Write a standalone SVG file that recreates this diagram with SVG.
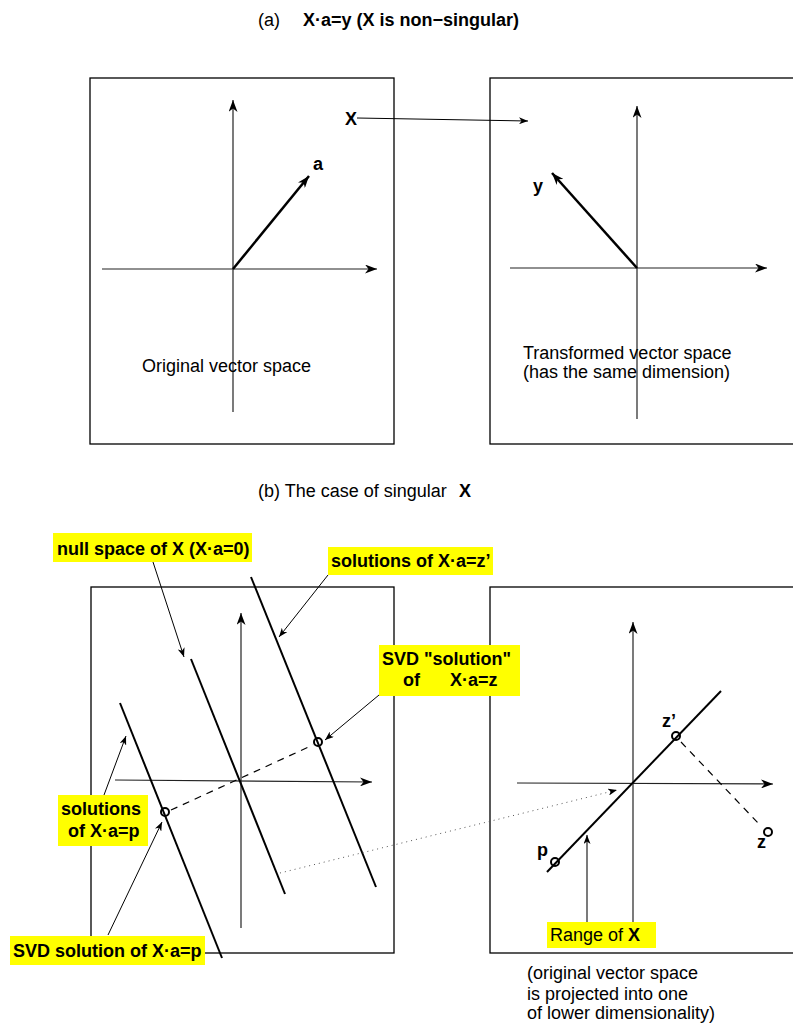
<svg xmlns="http://www.w3.org/2000/svg" width="793" height="1025" viewBox="0 0 793 1025">
<style>
text{font-family:"Liberation Sans",Arial,sans-serif;font-size:18px;fill:#000}
.b{font-weight:bold}
.box{fill:none;stroke:#000;stroke-width:1.3}
.ax{fill:none;stroke:#222;stroke-width:1.2}
.vec{fill:none;stroke:#000;stroke-width:2.5}
.ln{fill:none;stroke:#000;stroke-width:2}
.thin{fill:none;stroke:#000;stroke-width:1}
.dash{fill:none;stroke:#000;stroke-width:1.2;stroke-dasharray:7 6}
.dot{fill:none;stroke:#555;stroke-width:1;stroke-dasharray:1 4}
.hl{fill:#ffff00;stroke:none}
.pt{fill:none;stroke:#000;stroke-width:2}
</style>
<defs>
<marker id="ah" markerUnits="userSpaceOnUse" markerWidth="13" markerHeight="9" refX="12" refY="4.5" orient="auto"><path d="M0,0 L12,4.5 L0,9 L3.5,4.5 z" fill="#000"/></marker>
<marker id="ahs" markerUnits="userSpaceOnUse" markerWidth="10" markerHeight="7" refX="9" refY="3.5" orient="auto"><path d="M0,0 L9,3.5 L0,7 L2.5,3.5 z" fill="#000"/></marker>
</defs>
<rect width="793" height="1025" fill="#fff"/>

<g id="title-a">
<text x="258" y="26">(a)</text>
<text x="303" y="26" class="b">X·a=y (X is non−singular)</text>
</g>

<g id="panel-original">
<rect class="box" x="90" y="78" width="304" height="366"/>
<line class="ax" x1="233" y1="412" x2="233" y2="100" marker-end="url(#ah)"/>
<line class="ax" x1="102" y1="269" x2="377" y2="269" marker-end="url(#ah)"/>
<line class="vec" x1="233" y1="269" x2="309" y2="176" marker-end="url(#ah)"/>
<text x="313" y="170" class="b">a</text>
<text x="142" y="372">Original vector space</text>
</g>

<g id="label-X">
<text x="345" y="125" class="b">X</text>
</g>

<g id="panel-transformed">
<rect class="box" x="490" y="78" width="330" height="366"/>
<line class="ax" x1="637" y1="419" x2="637" y2="106" marker-end="url(#ah)"/>
<line class="ax" x1="510" y1="268" x2="767" y2="268" marker-end="url(#ah)"/>
<line class="vec" x1="637" y1="268" x2="552" y2="173" marker-end="url(#ah)"/>
<text x="533" y="192" class="b">y</text>
<text x="523" y="359">Transformed vector space</text>
<text x="523" y="378">(has the same dimension)</text>
</g>

<g id="title-b">
<text x="258" y="497">(b) The case of singular</text>
<text x="459" y="497" class="b">X</text>
</g>

<g id="panel-domain">
<rect class="box" x="91" y="587" width="303" height="366"/>
<line class="ax" x1="241" y1="928" x2="241" y2="613" marker-end="url(#ah)"/>
<line class="ax" x1="115" y1="780" x2="372" y2="782" marker-end="url(#ah)"/>
<line class="ln" x1="120" y1="703" x2="222" y2="958"/>
<line class="ln" x1="191" y1="659" x2="285" y2="894"/>
<line class="ln" x1="251" y1="577" x2="376" y2="887"/>
<line class="dash" x1="171" y1="810" x2="313" y2="745"/>
<circle class="pt" cx="165" cy="812" r="4"/>
<circle class="pt" cx="318" cy="742" r="4"/>
</g>

<g id="panel-range">
<rect class="box" x="490" y="587" width="330" height="366"/>
<line class="ax" x1="633" y1="922" x2="633" y2="622" marker-end="url(#ah)"/>
<line class="ax" x1="517" y1="783" x2="773" y2="784" marker-end="url(#ah)"/>
<line class="ln" x1="547" y1="872" x2="721" y2="691"/>
<line class="dash" x1="681" y1="742" x2="758" y2="823"/>
<circle class="pt" cx="676" cy="736" r="4"/>
<circle class="pt" cx="555" cy="862" r="4"/>
<circle class="pt" cx="768" cy="832" r="4"/>
<text x="662" y="727" class="b">z’</text>
<text x="537" y="856" class="b">p</text>
<text x="757" y="848" class="b">z</text>
</g>

<g id="label-nullspace">
<rect class="hl" x="53" y="533" width="199" height="29"/>
<text x="57" y="555" class="b">null space of X (X·a=0)</text>
</g>

<g id="label-solutions-z">
<rect class="hl" x="328" y="547" width="165" height="28"/>
<text x="331" y="567" class="b">solutions of X·a=z’</text>
</g>

<g id="label-svd-z">
<rect class="hl" x="379" y="645" width="141" height="51"/>
<text x="382" y="665" class="b">SVD "solution"</text>
<text x="403" y="686" class="b">of</text>
<text x="450" y="686" class="b">X·a=z</text>
</g>

<g id="label-solutions-p">
<rect class="hl" x="58" y="795" width="90" height="51"/>
<text x="61" y="815" class="b">solutions</text>
<text x="68" y="837" class="b">of X·a=p</text>
</g>

<g id="label-svd-p">
<rect class="hl" x="10" y="936" width="195" height="29"/>
<text x="13" y="957" class="b">SVD solution of X·a=p</text>
</g>

<g id="label-range">
<rect class="hl" x="547" y="922" width="109" height="26"/>
<text x="550" y="941">Range of</text>
<text x="628" y="941" class="b">X</text>
</g>

<g id="caption-range">
<text x="527" y="979">(original vector space</text>
<text x="527" y="1000">is projected into one</text>
<text x="527" y="1019">of lower dimensionality)</text>
</g>

<g id="connectors">
<line class="thin" x1="357" y1="118" x2="528" y2="121" marker-end="url(#ahs)"/>
<line class="thin" x1="153" y1="562" x2="184" y2="657" marker-end="url(#ahs)"/>
<line class="thin" x1="328" y1="575" x2="279" y2="637" marker-end="url(#ahs)"/>
<line class="thin" x1="379" y1="695" x2="325" y2="740" marker-end="url(#ahs)"/>
<line class="thin" x1="104" y1="795" x2="126" y2="736" marker-end="url(#ahs)"/>
<line class="thin" x1="108" y1="935" x2="162" y2="822" marker-end="url(#ahs)"/>
<line class="dot" x1="280" y1="873" x2="617" y2="790" marker-end="url(#ahs)"/>
<line class="ax" x1="587" y1="922" x2="587" y2="835" marker-end="url(#ahs)"/>
</g>
</svg>
